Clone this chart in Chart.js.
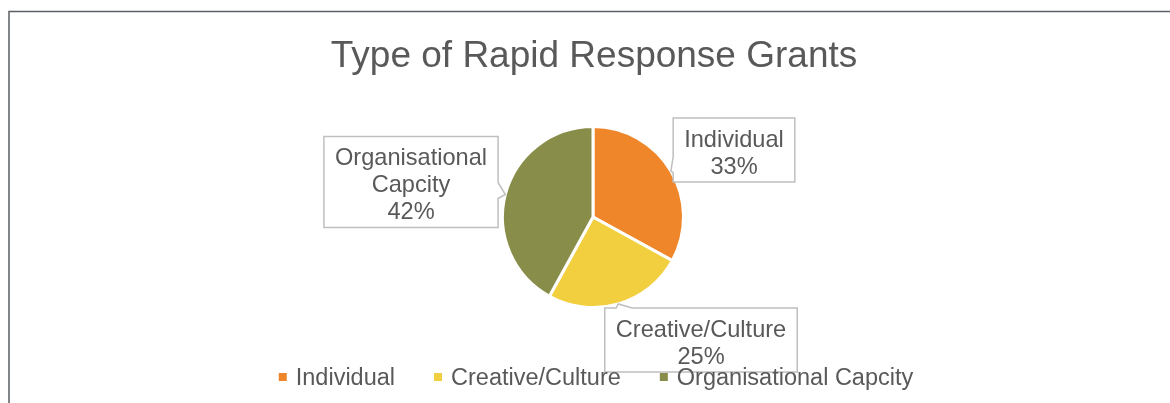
<!DOCTYPE html>
<html><head><meta charset="utf-8">
<script src="https://cdn.jsdelivr.net/npm/chart.js@4.4.1/dist/chart.umd.min.js"></script>
<style>html,body{margin:0;padding:0;background:#fff;overflow:hidden}</style>
</head><body>
<canvas id="c" width="1170" height="403"></canvas>
<script>
// ---- data ----
const chartTitle = 'Type of Rapid Response Grants';
const categories = ['Individual', 'Creative/Culture', 'Organisational Capcity'];
const values = [33, 25, 42];
const sliceColors = ['#EF8629', '#F2CF3E', '#898D4A'];

// ---- style / layout ----
const FONT = '"Liberation Sans", Arial, sans-serif';
const TEXT_COLOR = '#595959';
const centerX = 594;
const calloutOffsets = [ {dx: 141, dy: -67}, {dx: 108, dy: 123}, {dx: -182, dy: -35} ];

const framePlugin = {
  id: 'frame',
  beforeDraw(chart) {
    const ctx = chart.ctx;
    ctx.save();
    ctx.fillStyle = '#fff';
    ctx.fillRect(0, 0, chart.width, chart.height);
    ctx.strokeStyle = '#5b5f63';
    ctx.lineWidth = 1.5;
    ctx.beginPath();
    ctx.moveTo(9, chart.height + 2);
    ctx.lineTo(9, 11.5);
    ctx.lineTo(chart.width + 2, 11.5);
    ctx.stroke();
    ctx.fillStyle = TEXT_COLOR;
    ctx.font = '37px ' + FONT;
    ctx.textAlign = 'center';
    ctx.textBaseline = 'middle';
    ctx.fillText(chartTitle, centerX, 57);
    ctx.restore();
  }
};

function wrapWords(ctx, text, maxW) {
  const words = text.split(' ');
  const lines = [];
  let cur = '';
  for (const w of words) {
    const t = cur ? cur + ' ' + w : w;
    if (cur && ctx.measureText(t).width > maxW) { lines.push(cur); cur = w; }
    else cur = t;
  }
  if (cur) lines.push(cur);
  return lines;
}

const calloutPlugin = {
  id: 'callouts',
  afterDatasetsDraw(chart) {
    const ctx = chart.ctx;
    const meta = chart.getDatasetMeta(0);
    const data = chart.data.datasets[0].data;
    const total = data.reduce((a, b) => a + b, 0);
    ctx.save();
    ctx.font = '23.6px ' + FONT;
    const lineH = 27, padX = 11, padY = 5, hw = 8;
    meta.data.forEach((arc, i) => {
      const p = arc.getProps(['x', 'y', 'startAngle', 'endAngle', 'outerRadius'], true);
      const mid = (p.startAngle + p.endAngle) / 2;
      const tip = { x: p.x + Math.cos(mid) * p.outerRadius, y: p.y + Math.sin(mid) * p.outerRadius };
      const lines = wrapWords(ctx, chart.data.labels[i], 200);
      lines.push(Math.round(data[i] / total * 100) + '%');
      const w = Math.max(...lines.map(l => ctx.measureText(l).width)) + padX * 2;
      const h = lines.length * lineH + padY * 2;
      const cx = p.x + calloutOffsets[i].dx, cy = p.y + calloutOffsets[i].dy;
      const L = cx - w / 2, R = cx + w / 2, T = cy - h / 2, B = cy + h / 2;
      const clamp = (v, a, b) => Math.max(a, Math.min(b, v));
      let side;
      if (tip.x < L) side = 'left'; else if (tip.x > R) side = 'right';
      else if (tip.y < T) side = 'top'; else side = 'bottom';
      ctx.beginPath();
      ctx.moveTo(L, T);
      if (side === 'top') {
        const bx = clamp(tip.x + 6, L + hw + 2, R - hw - 2);
        ctx.lineTo(bx - hw, T); ctx.lineTo(tip.x, tip.y); ctx.lineTo(bx + hw, T);
      }
      ctx.lineTo(R, T);
      if (side === 'right') {
        const by = clamp(tip.y - 4, T + hw + 2, B - hw - 2);
        ctx.lineTo(R, by - hw); ctx.lineTo(tip.x, tip.y); ctx.lineTo(R, by + hw);
      }
      ctx.lineTo(R, B);
      ctx.lineTo(L, B);
      if (side === 'left') {
        const by = clamp(tip.y - 6, T + hw + 2, B - hw - 2);
        ctx.lineTo(L, by + hw); ctx.lineTo(tip.x, tip.y); ctx.lineTo(L, by - hw);
      }
      ctx.closePath();
      ctx.fillStyle = '#fff';
      ctx.fill();
      ctx.strokeStyle = '#bfbfbf';
      ctx.lineWidth = 1.5;
      ctx.stroke();
      ctx.fillStyle = TEXT_COLOR;
      ctx.textAlign = 'center';
      ctx.textBaseline = 'middle';
      lines.forEach((l, k) => ctx.fillText(l, cx, T + padY + lineH * (k + 0.5) + 3.5));
    });
    ctx.restore();
  }
};

const legendPlugin = {
  id: 'customLegend',
  afterDraw(chart) {
    const ctx = chart.ctx;
    const ds = chart.data.datasets[0];
    ctx.save();
    ctx.font = '23.5px ' + FONT;
    const sq = 8, gap = 9, spacing = 39, y = 377;
    const widths = chart.data.labels.map(l => sq + gap + ctx.measureText(l).width);
    const total = widths.reduce((a, b) => a + b, 0) + spacing * (widths.length - 1);
    let x = centerX + 2 - total / 2;
    ctx.textBaseline = 'middle';
    ctx.textAlign = 'left';
    chart.data.labels.forEach((l, i) => {
      ctx.fillStyle = ds.backgroundColor[i];
      ctx.fillRect(x, y - sq / 2, sq, sq);
      ctx.fillStyle = TEXT_COLOR;
      ctx.fillText(l, x + sq + gap, y + 2);
      x += widths[i] + spacing;
    });
    ctx.restore();
  }
};

new Chart(document.getElementById('c'), {
  type: 'pie',
  data: {
    labels: categories,
    datasets: [{ data: values, backgroundColor: sliceColors, borderColor: '#ffffff', borderWidth: 3 }]
  },
  options: {
    responsive: false,
    animation: false,
    layout: { padding: { left: 501, right: 485, top: 125, bottom: 94 } },
    plugins: { legend: { display: false }, title: { display: false }, tooltip: { enabled: false } }
  },
  plugins: [framePlugin, calloutPlugin, legendPlugin]
});
</script>
</body></html>
